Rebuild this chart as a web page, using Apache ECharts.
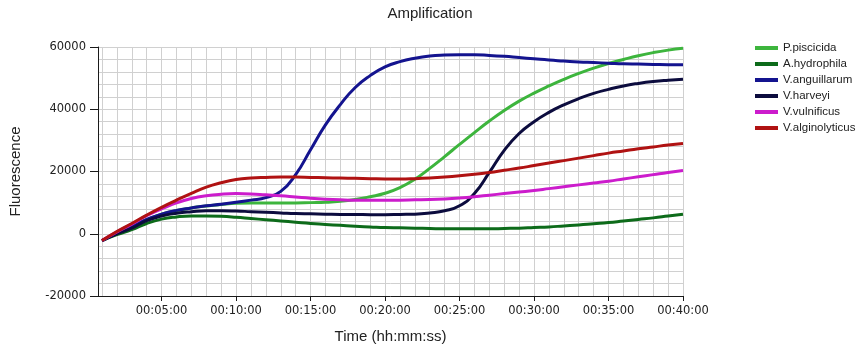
<!DOCTYPE html>
<html>
<head>
<meta charset="utf-8">
<script src="https://cdn.jsdelivr.net/npm/echarts@6/dist/echarts.min.js"></script>
<style>
  html, body { margin: 0; padding: 0; background: #fff; }
  #chart { width: 860px; height: 349px; }
</style>
</head>
<body>
<div id="chart"></div>
<script>
// time of each reading, seconds
var times = [60, 120, 180, 240, 300, 360, 420, 480, 540, 600,
    660, 720, 780, 840, 900, 960, 1020, 1080, 1140, 1200,
    1260, 1320, 1380, 1440, 1500, 1560, 1620, 1680, 1740, 1800,
    1860, 1920, 1980, 2040, 2100, 2160, 2220, 2280, 2340, 2400];

var seriesNames = ['P.piscicida', 'A.hydrophila', 'V.anguillarum', 'V.harveyi', 'V.vulnificus', 'V.alginolyticus'];
var seriesColors = ['#3db53d', '#0d6b1a', '#14148f', '#0c0c3e', '#cc1ccc', '#b01212'];

var piscicida = [-2200, 200, 2300, 4500, 6300, 7400, 8300, 8900, 9400, 9800,
    9900, 9900, 9900, 9900, 10000, 10100, 10400, 11000, 11900, 13000,
    14800, 17500, 21000, 24800, 28700, 32500, 36200, 39600, 42600, 45200,
    47500, 49600, 51500, 53200, 54700, 56000, 57200, 58200, 59000, 59600];
var hydrophila = [-2200, -300, 1300, 3300, 4700, 5400, 5700, 5700, 5600, 5300,
    4900, 4500, 4100, 3700, 3300, 3000, 2700, 2400, 2200, 2000,
    1900, 1800, 1700, 1600, 1600, 1600, 1600, 1700, 1800, 2000,
    2200, 2500, 2800, 3200, 3600, 4100, 4600, 5100, 5700, 6300];
var anguillarum = [-2200, 200, 2300, 4600, 6300, 7500, 8300, 9000, 9500, 10100,
    10800, 11600, 13600, 19000, 27000, 35000, 41500, 47000, 50800, 53600,
    55300, 56400, 57100, 57400, 57500, 57500, 57300, 57000, 56600, 56200,
    55800, 55500, 55200, 55000, 54800, 54600, 54500, 54400, 54300, 54300];
var harveyi = [-2200, 0, 1800, 4200, 5700, 6600, 7100, 7400, 7400, 7300,
    7100, 6900, 6700, 6500, 6400, 6300, 6200, 6200, 6100, 6100,
    6200, 6300, 6700, 7400, 9000, 12900, 19700, 26800, 32200, 36000,
    39000, 41400, 43400, 45100, 46400, 47500, 48300, 48900, 49300, 49600];
var vulnificus = [-2200, 600, 3100, 5800, 8000, 9900, 11300, 12200, 12700, 12900,
    12800, 12500, 12200, 11800, 11400, 11100, 10900, 10800, 10800, 10800,
    10800, 10900, 11000, 11200, 11500, 11900, 12400, 12900, 13400, 13900,
    14500, 15100, 15700, 16300, 16900, 17600, 18300, 19000, 19700, 20300];
var alginolyticus = [-2200, 700, 3300, 6000, 8500, 10800, 13000, 15000, 16400, 17400,
    17900, 18100, 18200, 18200, 18100, 18000, 17900, 17800, 17700, 17600,
    17600, 17700, 17900, 18200, 18600, 19100, 19700, 20400, 21100, 21900,
    22700, 23500, 24300, 25100, 25900, 26600, 27300, 27900, 28500, 29000];

var seriesValues = [piscicida, hydrophila, anguillarum, harveyi, vulnificus, alginolyticus];

function pad2(n) {
    return (n < 10 ? '0' : '') + n;
}

function fmtTime(sec) {
    var h = Math.floor(sec / 3600);
    var m = Math.floor((sec % 3600) / 60);
    var s = Math.round(sec % 60);
    return pad2(h) + ':' + pad2(m) + ':' + pad2(s);
}

var gridColor = '#d0d0d0';
var axisColor = '#1a1a1a';
var labelFont = 'DejaVu Sans';

var series = seriesNames.map(function (name, i) {
    return {
        name: name,
        type: 'line',
        smooth: true,
        symbol: 'none',
        lineStyle: { width: 3, color: seriesColors[i] },
        itemStyle: { color: seriesColors[i] },
        data: times.map(function (t, j) { return [t, seriesValues[i][j]]; })
    };
});

var chart = echarts.init(document.getElementById('chart'));
chart.setOption({
    animation: false,
    backgroundColor: '#ffffff',
    title: {
        text: 'Amplification',
        left: 'center',
        top: 1,
        textStyle: { fontFamily: 'Liberation Sans', fontSize: 15, fontWeight: 'normal', color: '#222' }
    },
    legend: {
        orient: 'vertical',
        left: 755,
        top: 40,
        padding: 0,
        itemGap: 0,
        icon: 'rect',
        itemWidth: 23,
        itemHeight: 4,
        textStyle: { fontFamily: 'Liberation Sans', fontSize: 11.5, lineHeight: 16, color: '#222' },
        data: seriesNames
    },
    grid: { left: 98, right: 177, top: 47, bottom: 53, containLabel: false },
    xAxis: {
        type: 'value',
        min: 44,
        max: 2400,
        splitNumber: 8,
        minInterval: 300,
        maxInterval: 300,
        name: 'Time (hh:mm:ss)',
        nameLocation: 'middle',
        nameGap: 33,
        nameTextStyle: { fontFamily: 'Liberation Sans', fontSize: 15, color: '#222' },
        axisLine: { show: true, onZero: false, lineStyle: { color: axisColor, width: 1 } },
        axisTick: { show: true, length: 5, lineStyle: { color: axisColor } },
        axisLabel: {
            showMinLabel: false,
            margin: 9,
            fontFamily: labelFont,
            fontSize: 11.5,
            color: '#222',
            formatter: fmtTime
        },
        splitLine: { show: true, lineStyle: { color: gridColor, width: 1 } },
        minorTick: { show: false, splitNumber: 5 },
        minorSplitLine: { show: true, lineStyle: { color: gridColor, width: 1 } }
    },
    yAxis: {
        type: 'value',
        min: -20000,
        max: 60000,
        interval: 20000,
        name: 'Fluorescence',
        nameLocation: 'middle',
        nameGap: 75,
        nameTextStyle: { fontFamily: 'Liberation Sans', fontSize: 15, color: '#222' },
        axisLine: { show: true, lineStyle: { color: axisColor, width: 1 } },
        axisTick: { show: true, length: 8, lineStyle: { color: axisColor } },
        axisLabel: {
            margin: 12,
            fontFamily: labelFont,
            fontSize: 11.5,
            color: '#222',
            formatter: function (v) { return String(v); }
        },
        splitLine: { show: true, lineStyle: { color: gridColor, width: 1 } },
        minorTick: { show: false, splitNumber: 5 },
        minorSplitLine: { show: true, lineStyle: { color: gridColor, width: 1 } }
    },
    series: series
});
</script>
</body>
</html>
